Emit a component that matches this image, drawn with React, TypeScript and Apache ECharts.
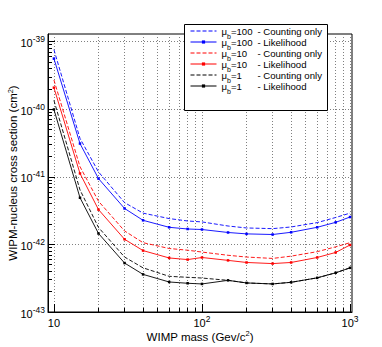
import React, { useEffect, useRef } from 'react';
import * as echarts from 'echarts';

// ---- data ----
const masses = [10, 15, 20, 30, 40, 60, 80, 100, 150, 200, 300, 400, 600, 800, 1000];

const mu100Counting = [7.6e-40, 3.7e-41, 1.18e-41, 4.15e-42, 2.9e-42, 2.41e-42, 2.22e-42, 2.15e-42, 1.87e-42, 1.75e-42, 1.71e-42, 1.81e-42, 2.1e-42, 2.5e-42, 2.9e-42];
const mu100Likelihood = [5.6e-40, 3.1e-41, 9.4e-42, 3.4e-42, 2.27e-42, 1.79e-42, 1.69e-42, 1.66e-42, 1.5e-42, 1.43e-42, 1.4e-42, 1.51e-42, 1.79e-42, 2.12e-42, 2.54e-42];
const mu10Counting = [2.7e-40, 1.41e-41, 4.35e-42, 1.58e-42, 1.06e-42, 8.7e-43, 8.2e-43, 7.7e-43, 6.9e-43, 6.5e-43, 6.2e-43, 6.7e-43, 7.8e-43, 9.2e-43, 1.06e-42];
const mu10Likelihood = [2.08e-40, 1.12e-41, 3.27e-42, 1.19e-42, 8.1e-43, 6.3e-43, 5.96e-43, 6.4e-43, 5.8e-43, 5.4e-43, 5.2e-43, 5.4e-43, 6.4e-43, 7.6e-43, 9.8e-43];
const mu1Counting = [1.35e-40, 6.4e-42, 1.78e-42, 6.5e-43, 4.5e-43, 3.37e-43, 3.26e-43, 3.18e-43, 2.94e-43, 2.69e-43, 2.6e-43, 2.75e-43, 3.2e-43, 3.8e-43, 4.5e-43];
const mu1Likelihood = [9.9e-41, 4.9e-42, 1.45e-42, 5.3e-43, 3.6e-43, 2.78e-43, 2.66e-43, 2.6e-43, 2.94e-43, 2.69e-43, 2.6e-43, 2.75e-43, 3.2e-43, 3.8e-43, 4.5e-43];

const seriesNames = [
  'μb=100 - Counting only',
  'μb=100 - Likelihood',
  'μb=10 - Counting only',
  'μb=10 - Likelihood',
  'μb=1 - Counting only',
  'μb=1 - Likelihood',
];
const legendMu = ['100', '100', '10', '10', '1', '1'];
const legendMethod = ['Counting only', 'Likelihood', 'Counting only', 'Likelihood', 'Counting only', 'Likelihood'];

const xLabelValues = [10, 100, 1000];
const xGridValues = [10, 20, 30, 40, 50, 60, 70, 80, 90, 100, 200, 300, 400, 500, 600, 700, 800, 900, 1000];
const yDecades = [1e-43, 1e-42, 1e-41, 1e-40, 1e-39];
const yMinorMultipliers = [2, 3, 4, 5, 6, 7, 8, 9];
const xRange = [9.12, 1031];
const yRange = [1e-43, 1.294e-39];

const FONT = '"Liberation Sans", Arial, Helvetica, sans-serif';
const lg = (v: number) => Math.log10(v);

export default function App() {
  const ref = useRef<HTMLDivElement>(null);
  useEffect(() => {
    const chart = echarts.init(ref.current!, null, { renderer: 'svg' });
    const xMin = lg(xRange[0]);
    const xMax = lg(xRange[1]);
    const yMin = lg(yRange[0]);
    const yMax = lg(yRange[1]);

    const yMinor: number[] = [];
    yDecades.forEach((d) => yMinorMultipliers.forEach((k) => {
      const v = lg(d * k);
      if (v < yMax) yMinor.push(v);
    }));

    const colors = ['#0000ff', '#0000ff', '#ff0000', '#ff0000', '#000000', '#000000'];
    const values = [mu100Counting, mu100Likelihood, mu10Counting, mu10Likelihood, mu1Counting, mu1Likelihood];
    const dashed = [true, false, true, false, true, false];

    const gridLine = { color: '#808080', type: [1, 2], width: 1 };
    const labelRich = {
      b: { fontSize: 11, color: '#000', fontFamily: FONT, padding: [3, 0, 0, 0] },
      s: { fontSize: 8.5, color: '#000', fontFamily: FONT, padding: [0, 0, 5, 0] },
    };
    const nameRich = { s: { fontSize: 7.5, color: '#000', fontFamily: FONT, padding: [0, 0, 6, 0] } };

    const option: any = {
      animation: false,
      backgroundColor: '#ffffff',
      textStyle: { fontFamily: FONT },
      grid: {
        left: 48, right: 30, top: 34, bottom: 35,
        show: true, borderColor: '#000', borderWidth: 1, backgroundColor: 'transparent',
        containLabel: false, outerBoundsMode: 'none',
      },
      xAxis: [
        {
          type: 'value', min: xMin, max: xMax, position: 'bottom',
          axisLine: { show: true, onZero: false, lineStyle: { color: '#000', width: 1 } },
          axisTick: { show: true, inside: true, length: 4, customValues: xGridValues.map(lg), lineStyle: { color: '#000', width: 1 } },
          splitLine: { show: true, lineStyle: gridLine },
          axisLabel: {
            customValues: xLabelValues.map(lg), margin: 2.5, color: '#000',
            formatter: (v: number) => {
              const e = Math.round(v);
              return e === 1 ? '{b|10}' : `{b|10}{s|${e}}`;
            },
            rich: labelRich,
          },
          name: 'WIMP mass (Gev/c{s|2})', nameLocation: 'middle', nameGap: 17.5, nameMoveOverlap: false,
          nameTextStyle: { fontSize: 11.5, color: '#000', fontFamily: FONT, rich: nameRich },
        },
        {
          type: 'value', min: xMin, max: xMax, position: 'bottom',
          axisLine: { show: false, onZero: false },
          axisTick: { show: true, inside: true, length: 8, customValues: xLabelValues.map(lg), lineStyle: { color: '#000', width: 1 } },
          splitLine: { show: false },
          axisLabel: { show: false },
        },
      ],
      yAxis: [
        {
          type: 'value', min: yMin, max: yMax, position: 'left',
          axisLine: { show: true, onZero: false, lineStyle: { color: '#000', width: 1 } },
          axisTick: { show: true, inside: true, length: 7, customValues: yDecades.map(lg), lineStyle: { color: '#000', width: 1 } },
          splitLine: { show: true, lineStyle: gridLine },
          axisLabel: {
            customValues: yDecades.map(lg), margin: 3, color: '#000',
            formatter: (v: number) => `{b|10}{s|${Math.round(v)}}`,
            rich: labelRich,
          },
          name: 'WIPM-nucleus cross section (cm{s|2})', nameLocation: 'middle', nameGap: 28, nameRotate: 90,
          nameMoveOverlap: false,
          nameTextStyle: { fontSize: 11.5, color: '#000', fontFamily: FONT, rich: nameRich },
        },
        {
          type: 'value', min: yMin, max: yMax, position: 'left',
          axisLine: { show: false, onZero: false },
          axisTick: { show: true, inside: true, length: 4, customValues: yMinor, lineStyle: { color: '#000', width: 1 } },
          splitLine: { show: false },
          axisLabel: { show: false },
        },
      ],
      legend: {
        orient: 'vertical', left: 190, top: 26, padding: 0,
        itemWidth: 26, itemHeight: 4, itemGap: -2.5, selectedMode: false, z: 5,
        lineStyle: { width: 1 },
        data: seriesNames.map((n, i) => (dashed[i] ? { name: n, itemStyle: { opacity: 0 } } : { name: n })),
        formatter: (name: string) => {
          const i = seriesNames.indexOf(name);
          return `{m|μ}{b|b}{v|=${legendMu[i]}}{t|- ${legendMethod[i]}}`;
        },
        textStyle: {
          fontSize: 9.6, color: '#000', fontFamily: FONT,
          rich: {
            m: { fontSize: 9.6, color: '#000', fontFamily: FONT },
            b: { fontSize: 7, color: '#000', fontFamily: FONT, padding: [10, 0, 0, 0] },
            v: { fontSize: 9.6, color: '#000', fontFamily: FONT, width: 26.5 },
            t: { fontSize: 9.6, color: '#000', fontFamily: FONT },
          },
        },
      },
      graphic: [
        {
          type: 'rect', z: 3, silent: true,
          shape: { x: 184.5, y: 24.5, width: 143, height: 86 },
          style: { fill: '#ffffff', stroke: '#000000', lineWidth: 1 },
        },
      ],
      series: seriesNames.map((n, i) => ({
        name: n, type: 'line', xAxisIndex: 0, yAxisIndex: 0, z: 2, silent: true,
        data: masses.map((m, j) => [lg(m), lg(values[i][j])]),
        symbol: dashed[i] ? 'none' : 'rect', symbolSize: 2.5, showSymbol: !dashed[i],
        lineStyle: { color: colors[i], width: 0.9, type: dashed[i] ? [4, 2] : 'solid' },
        itemStyle: { color: colors[i] },
        emphasis: { disabled: true },
      })),
    };
    chart.setOption(option);
    return () => chart.dispose();
  }, []);
  return <div ref={ref} style={{ position: 'absolute', left: 0, top: 0, width: 382, height: 347 }} />;
}
